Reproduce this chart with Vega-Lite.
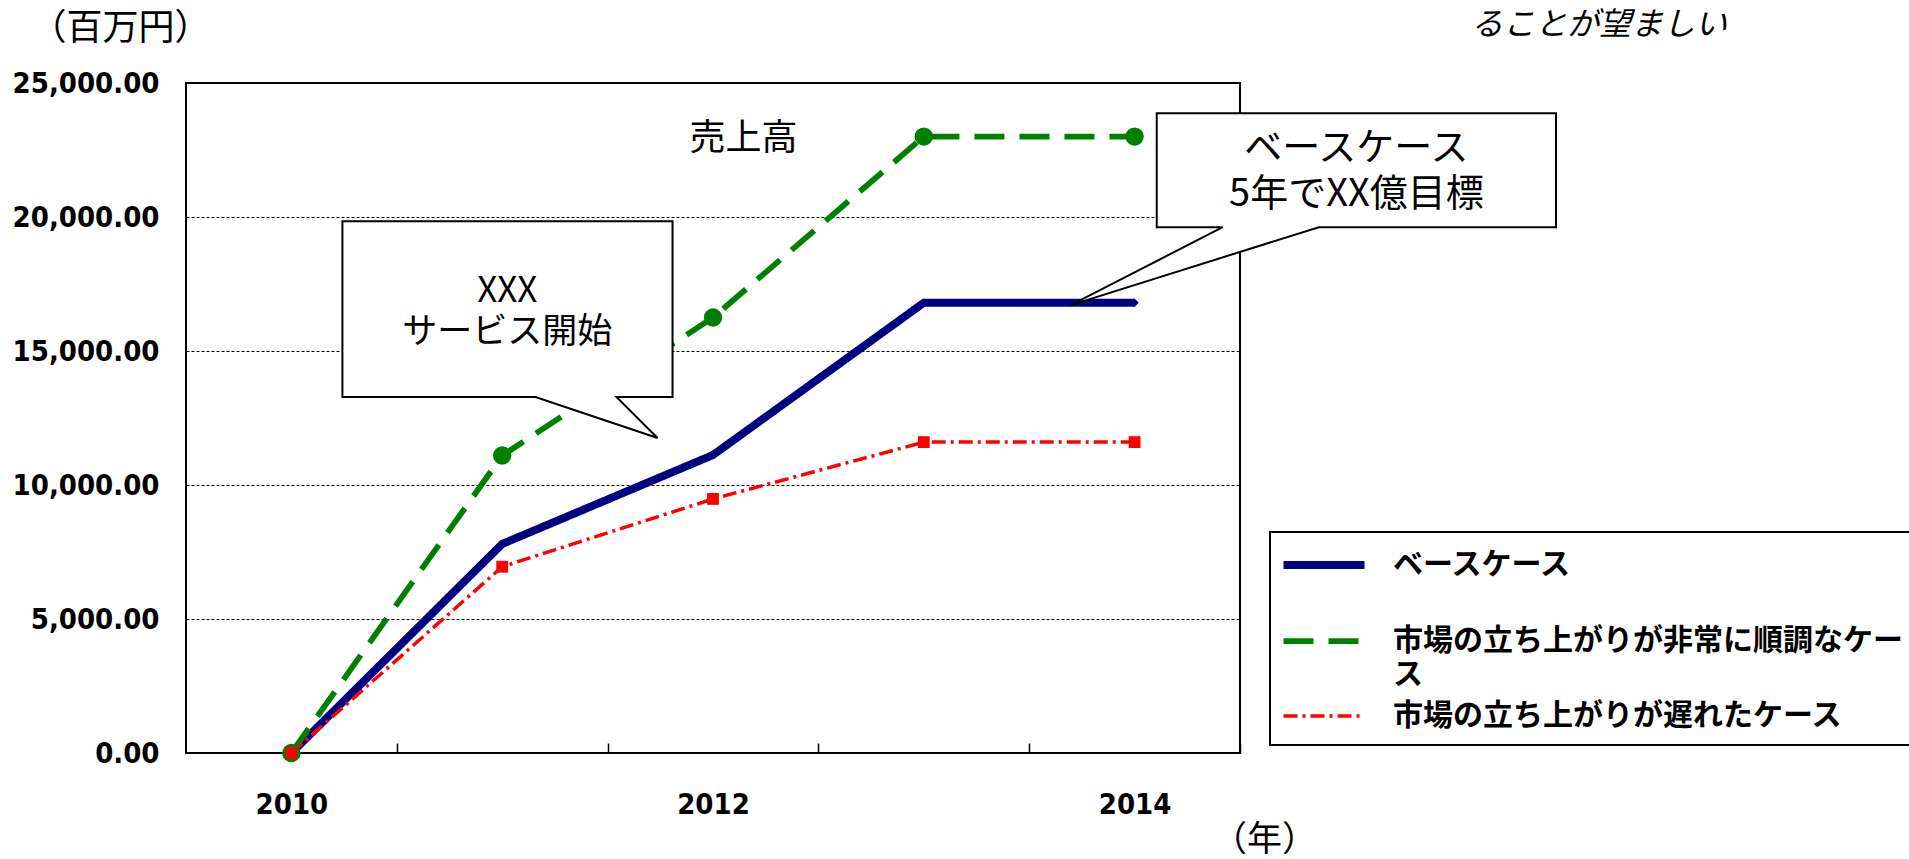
{
  "$schema": "https://vega.github.io/schema/vega-lite/v6.json",
  "width": 1054,
  "height": 670,
  "autosize": {"type": "none"},
  "padding": {"left": 186, "top": 83, "right": 669, "bottom": 106},
  "background": "white",
  "config": {
    "font": "Noto Sans CJK JP",
    "view": {"stroke": "black", "strokeWidth": 2},
    "legend": {"strokeWidth": 2},
    "style": {"guide-label": {"lineHeight": 34}}
  },
  "datasets": {
    "sales": [
      {"year": 2010, "value": 0, "series": "ベースケース"},
      {"year": 2011, "value": 7800, "series": "ベースケース"},
      {"year": 2012, "value": 11120, "series": "ベースケース"},
      {"year": 2013, "value": 16800, "series": "ベースケース"},
      {"year": 2014, "value": 16800, "series": "ベースケース"},
      {"year": 2010, "value": 0, "series": "市場の立ち上がりが非常に順調なケース"},
      {"year": 2011, "value": 11100, "series": "市場の立ち上がりが非常に順調なケース"},
      {"year": 2012, "value": 16250, "series": "市場の立ち上がりが非常に順調なケース"},
      {"year": 2013, "value": 23000, "series": "市場の立ち上がりが非常に順調なケース"},
      {"year": 2014, "value": 23000, "series": "市場の立ち上がりが非常に順調なケース"},
      {"year": 2010, "value": 0, "series": "市場の立ち上がりが遅れたケース"},
      {"year": 2011, "value": 6950, "series": "市場の立ち上がりが遅れたケース"},
      {"year": 2012, "value": 9480, "series": "市場の立ち上がりが遅れたケース"},
      {"year": 2013, "value": 11600, "series": "市場の立ち上がりが遅れたケース"},
      {"year": 2014, "value": 11600, "series": "市場の立ち上がりが遅れたケース"}
    ],
    "callouts": [
      {"callout": "A", "vertex": 0, "year": 2010.242, "value": 19844},
      {"callout": "A", "vertex": 1, "year": 2011.808, "value": 19844},
      {"callout": "A", "vertex": 2, "year": 2011.808, "value": 13283},
      {"callout": "A", "vertex": 3, "year": 2011.542, "value": 13283},
      {"callout": "A", "vertex": 4, "year": 2011.737, "value": 11754},
      {"callout": "A", "vertex": 5, "year": 2011.158, "value": 13283},
      {"callout": "A", "vertex": 6, "year": 2010.242, "value": 13283},
      {"callout": "B", "vertex": 0, "year": 2014.105, "value": 23870},
      {"callout": "B", "vertex": 1, "year": 2015.999, "value": 23870},
      {"callout": "B", "vertex": 2, "year": 2015.999, "value": 19620},
      {"callout": "B", "vertex": 3, "year": 2014.874, "value": 19620},
      {"callout": "B", "vertex": 4, "year": 2013.697, "value": 16713},
      {"callout": "B", "vertex": 5, "year": 2014.418, "value": 19620},
      {"callout": "B", "vertex": 6, "year": 2014.105, "value": 19620}
    ]
  },
  "layer": [
    {
      "data": {"name": "sales"},
      "mark": {"type": "line", "strokeJoin": "round", "strokeCap": "butt"},
      "encoding": {
        "x": {
          "field": "year", "type": "quantitative",
          "scale": {"domain": [2009.5, 2014.5], "nice": false, "zero": false},
          "axis": {
            "values": [2010, 2011, 2012, 2013, 2014],
            "labelExpr": "datum.value % 2 == 0 ? format(datum.value, 'd') : ''",
            "tickOffset": 105.4,
            "labelOffset": -105.4,
            "tickSize": -10,
            "tickColor": "black",
            "tickWidth": 1.5,
            "domain": false,
            "grid": false,
            "labelFlush": false,
            "labelPadding": 47,
            "labelFont": "DejaVu Sans Condensed",
            "labelFontSize": 29,
            "labelFontWeight": "bold",
            "labelColor": "black",
            "title": "（年）",
            "titleAngle": 0,
            "titleX": 1078,
            "titleY": 86,
            "titleAlign": "center",
            "titleBaseline": "middle",
            "titleFont": "Noto Sans CJK JP",
            "titleFontSize": 35,
            "titleFontWeight": "normal",
            "titleColor": "black"
          }
        },
        "y": {
          "field": "value", "type": "quantitative",
          "scale": {"domain": [0, 25000], "nice": false, "zero": true},
          "axis": {
            "values": [0, 5000, 10000, 15000, 20000, 25000],
            "format": ",.2f",
            "grid": true,
            "gridColor": "black",
            "gridDash": [3, 2],
            "gridWidth": 1,
            "domain": false,
            "ticks": false,
            "labelFlush": false,
            "labelPadding": 27,
            "labelFont": "DejaVu Sans Condensed",
            "labelFontSize": 29,
            "labelFontWeight": "bold",
            "labelColor": "black",
            "title": "（百万円）",
            "titleAngle": 0,
            "titleX": -66,
            "titleY": -55,
            "titleAlign": "center",
            "titleBaseline": "middle",
            "titleFont": "Noto Sans CJK JP",
            "titleFontSize": 36,
            "titleFontWeight": "normal",
            "titleColor": "black"
          }
        },
        "color": {
          "field": "series", "type": "nominal",
          "scale": {"domain": ["ベースケース", "市場の立ち上がりが非常に順調なケース", "市場の立ち上がりが遅れたケース"], "range": ["#000080", "#008000", "#ff0000"]},
          "legend": {"title": null, "orient": "none", "legendX": 1084, "legendY": 449, "symbolType": "M-2.7,0H2.7", "symbolSize": 900, "symbolOffset": 21, "labelOffset": 50, "padding": 14, "rowPadding": 9, "strokeColor": "black", "fillColor": "white", "labelFont": "Noto Sans CJK JP", "labelFontSize": 30, "labelFontWeight": "bold", "labelColor": "black", "labelLimit": 1000, "labelExpr": "datum.label == '市場の立ち上がりが非常に順調なケース' ? ['市場の立ち上がりが非常に順調なケー', 'ス'] : datum.label == 'ベースケース' ? ['ベースケース', ''] : datum.label"}
        },
        "strokeDash": {
          "field": "series", "type": "nominal",
          "scale": {"domain": ["ベースケース", "市場の立ち上がりが非常に順調なケース", "市場の立ち上がりが遅れたケース"], "range": [[1, 0], [30, 15], [14, 5, 3, 5]]},
          "legend": {"title": null, "orient": "none", "legendX": 1084, "legendY": 449, "symbolType": "M-2.7,0H2.7", "symbolSize": 900, "symbolOffset": 21, "labelOffset": 50, "padding": 14, "rowPadding": 9, "strokeColor": "black", "fillColor": "white", "labelFont": "Noto Sans CJK JP", "labelFontSize": 30, "labelFontWeight": "bold", "labelColor": "black", "labelLimit": 1000, "labelExpr": "datum.label == '市場の立ち上がりが非常に順調なケース' ? ['市場の立ち上がりが非常に順調なケー', 'ス'] : datum.label == 'ベースケース' ? ['ベースケース', ''] : datum.label"}
        },
        "strokeWidth": {
          "field": "series", "type": "nominal",
          "scale": {"domain": ["ベースケース", "市場の立ち上がりが非常に順調なケース", "市場の立ち上がりが遅れたケース"], "range": [8, 3.5, 1.8]},
          "legend": {"title": null, "orient": "none", "legendX": 1084, "legendY": 449, "symbolType": "M-2.7,0H2.7", "symbolSize": 900, "symbolOffset": 21, "labelOffset": 50, "padding": 14, "rowPadding": 9, "strokeColor": "black", "fillColor": "white", "labelFont": "Noto Sans CJK JP", "labelFontSize": 30, "labelFontWeight": "bold", "labelColor": "black", "labelLimit": 1000, "labelExpr": "datum.label == '市場の立ち上がりが非常に順調なケース' ? ['市場の立ち上がりが非常に順調なケー', 'ス'] : datum.label == 'ベースケース' ? ['ベースケース', ''] : datum.label"}
        }
      }
    },
    {
      "data": {"name": "sales"},
      "transform": [{"filter": "datum.series == 'ベースケース'"}],
      "mark": {"type": "point", "filled": true, "opacity": 1, "shape": "diamond", "size": 70, "color": "#000080"},
      "encoding": {
        "x": {"field": "year", "type": "quantitative"},
        "y": {"field": "value", "type": "quantitative"}
      }
    },
    {
      "data": {"name": "sales"},
      "transform": [{"filter": "datum.series == '市場の立ち上がりが非常に順調なケース'"}],
      "mark": {"type": "point", "filled": true, "opacity": 1, "shape": "circle", "size": 340, "color": "#008000"},
      "encoding": {
        "x": {"field": "year", "type": "quantitative"},
        "y": {"field": "value", "type": "quantitative"}
      }
    },
    {
      "data": {"name": "sales"},
      "transform": [{"filter": "datum.series == '市場の立ち上がりが遅れたケース'"}],
      "mark": {"type": "point", "filled": true, "opacity": 1, "shape": "square", "size": 140, "color": "#ff0000"},
      "encoding": {
        "x": {"field": "year", "type": "quantitative"},
        "y": {"field": "value", "type": "quantitative"}
      }
    },
    {
      "data": {"name": "callouts"},
      "mark": {"type": "line", "interpolate": "linear-closed", "fill": "white", "stroke": "black", "strokeWidth": 2, "strokeJoin": "miter"},
      "encoding": {
        "x": {"field": "year", "type": "quantitative"},
        "y": {"field": "value", "type": "quantitative"},
        "detail": {"field": "callout", "type": "nominal"},
        "order": {"field": "vertex", "type": "quantitative"}
      }
    },
    {
      "data": {"values": [{}]},
      "mark": {"type": "text", "text": "XXX\nサービス開始", "lineBreak": "\n", "lineHeight": 41, "font": "Noto Sans CJK JP", "fontSize": 35, "color": "black", "align": "center", "baseline": "middle"},
      "encoding": {
        "x": {"datum": 2011.024, "type": "quantitative"},
        "y": {"datum": 17253, "type": "quantitative"}
      }
    },
    {
      "data": {"values": [{}]},
      "mark": {"type": "text", "text": "ベースケース\n5年でXX億目標", "lineBreak": "\n", "lineHeight": 46, "font": "Noto Sans CJK JP", "fontSize": 38, "color": "black", "align": "center", "baseline": "middle"},
      "encoding": {
        "x": {"datum": 2015.052, "type": "quantitative"},
        "y": {"datum": 22528, "type": "quantitative"}
      }
    },
    {
      "data": {"values": [{}]},
      "mark": {"type": "text", "text": "売上高", "font": "Noto Sans CJK JP", "fontSize": 36, "color": "black", "align": "center", "baseline": "middle"},
      "encoding": {
        "x": {"datum": 2012.145, "type": "quantitative"},
        "y": {"datum": 22900, "type": "quantitative"}
      }
    },
    {
      "data": {"values": [{}]},
      "mark": {"type": "text", "text": "ることが望ましい", "font": "Noto Sans CJK JP", "fontSize": 32, "fontStyle": "italic", "color": "black", "align": "center", "baseline": "middle"},
      "encoding": {
        "x": {"datum": 2016.203, "type": "quantitative"},
        "y": {"datum": 27151, "type": "quantitative"}
      }
    }
  ]
}
